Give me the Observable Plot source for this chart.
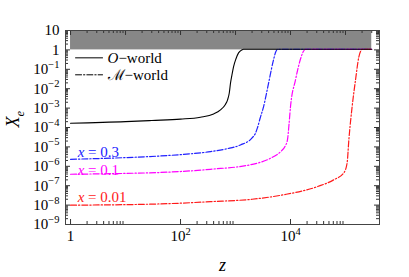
<!DOCTYPE html>
<html><head><meta charset="utf-8">
<script src="https://cdn.jsdelivr.net/npm/d3@7"></script>
<script src="https://cdn.jsdelivr.net/npm/@observablehq/plot@0.6"></script>
<style>body{margin:0;background:#fff} svg text{font-family:'Liberation Serif','DejaVu Serif',serif !important}</style>
</head><body><div id="chart"></div>
<script>
// ---- data ----
const zO  = [1, 10, 30, 100, 230, 400, 533, 650, 715, 770, 812, 870, 920, 1020, 1135, 1300, 1400, 3000, 1e4, 1e5, 3e5];
const xeO = [1.66e-4, 2.0e-4, 2.3e-4, 2.7e-4, 3.4e-4, 5e-4, 8.1e-4, 1.5e-3, 2.6e-3, 6e-3, 0.02, 0.06, 0.133, 0.35, 0.7, 1.0, 1.08, 1.08, 1.08, 1.08, 1.08];

const zM3  = [1, 10, 43, 100, 351, 700, 1230, 2000, 2300, 2500, 2800, 3240, 4000, 4900, 5400, 5800, 1e4, 1e5, 3e5];
const xeM3 = [2.3e-6, 2.8e-6, 3.4e-6, 4e-6, 5.7e-6, 8e-6, 1.26e-5, 2.9e-5, 5e-5, 9.5e-5, 3e-4, 1.2e-3, 0.02, 0.3, 0.8, 1.08, 1.08, 1.08, 1.08];

const zM1  = [1, 10, 43, 351, 2130, 4330, 6600, 8000, 8800, 9400, 1e4, 12300, 15000, 17000, 18700, 1e5, 3e5];
const xeM1 = [3.9e-7, 4.3e-7, 4.8e-7, 7e-7, 1.3e-6, 2.6e-6, 5.7e-6, 1.1e-5, 2.3e-5, 1.5e-4, 1.2e-3, 0.028, 0.3, 0.8, 1.08, 1.08, 1.08];

const zM01  = [1, 43, 351, 2000, 7460, 31000, 60800, 93200, 107000, 115000, 132000, 152000, 175000, 190000, 201000, 3e5];
const xeM01 = [9.9e-9, 1.15e-8, 1.5e-8, 2e-8, 3.4e-8, 9e-8, 2e-7, 4.6e-7, 1.5e-6, 2.3e-5, 1.2e-3, 0.028, 0.44, 0.9, 1.08, 1.08];

const seriesNames  = ["O", "x=0.3", "x=0.1", "x=0.01"];
const seriesColors = ["#000000", "#2020ff", "#ff00ff", "#ff1a1a"];

const curveLabels = [
  {text: "*x* = 0.3",  z: 1.35, v: 3.2e-6,  color: "#2020ff"},
  {text: "*x* = 0.1",  z: 1.35, v: 3.6e-7,  color: "#ff00ff"},
  {text: "*x* = 0.01", z: 1.35, v: 1.38e-8, color: "#ff1a1a"}
];
const legendLabels = ["*O*\u2212world", "\u2133\u2212world"];

const yTickLabels = [10, 1, 1e-1, 1e-2, 1e-3, 1e-4, 1e-5, 1e-6, 1e-7, 1e-8, 1e-9];
const xTickLabels = [1, 1e2, 1e4];
const bandRange = {z1: 1, z2: 3e5, v1: 1, v2: 10};

// ---- build tables ----
const mk = (zs, vs, name) => zs.map((z, i) => ({z, v: vs[i], name}));
const solid = mk(zO, xeO, seriesNames[0]);
const dashed = [mk(zM3, xeM3, seriesNames[1]), mk(zM1, xeM1, seriesNames[2]), mk(zM01, xeM01, seriesNames[3])];

const fmtY = d => d === 10 ? "10" : d === 1 ? "1" : "10^{\u2212" + Math.round(-Math.log10(d)) + "}";
const fmtX = d => d === 1 ? "1" : "10^{" + Math.round(Math.log10(d)) + "}";

// tick positions
const yMinor = [], yMajor = [];
for (let n = -9; n <= 0; n++) for (let k = 1; k <= 9; k++) (k === 1 ? yMajor : yMinor).push(k * 10 ** n);
yMajor.push(10);
const topMajor = [], topMinor = [];
for (let n = 0; n <= 5; n++) for (let k = 1; k <= 9; k++) { const v = k * 10 ** n; if (v < 4.1e5) (k === 1 ? topMajor : topMinor).push(v); }
const botMajor = [], botMinor = [];
for (const n of [0, 2, 4]) for (let k = 1; k <= 9; k++) (k === 1 ? botMajor : botMinor).push(k * 10 ** n);

const W = 409, H = 277, mL = 65, mR = 30, mT = 30, mB = 53;
const iW = W - mL - mR, iH = H - mT - mB;
const dash = "6,2,1.3,2";
const tickStroke = "#333";
const FONT = "'Liberation Serif', 'DejaVu Serif', serif";
const legendRow = [0.39, 0.052];

const plot = Plot.plot({
  width: W, height: H, marginLeft: mL, marginRight: mR, marginTop: mT, marginBottom: mB,
  style: {fontFamily: FONT, background: "#fff", color: "#000", overflow: "visible"},
  x: {type: "log", domain: [0.81, 4.15e5], axis: null},
  y: {type: "log", domain: [1e-9, 10], axis: null},
  marks: [
    Plot.rect([bandRange], {x1: "z1", x2: "z2", y1: "v1", y2: "v2", fill: "#878787"}),
    ...dashed.map((d, i) => Plot.line(d, {x: "z", y: "v", stroke: seriesColors[i + 1], strokeWidth: 1.2, strokeDasharray: dash, curve: "monotone-x"})),
    Plot.line(solid, {x: "z", y: "v", stroke: seriesColors[0], strokeWidth: 1.1, curve: "monotone-x"}),
    // ticks (inward)
    Plot.tickY(yMajor, {y: d => d, insetRight: iW - 5, stroke: tickStroke}),
    Plot.tickY(yMinor, {y: d => d, insetRight: iW - 3, stroke: tickStroke}),
    Plot.tickY(yMajor, {y: d => d, insetLeft: iW - 5, stroke: tickStroke}),
    Plot.tickY(yMinor, {y: d => d, insetLeft: iW - 3, stroke: tickStroke}),
    Plot.tickX(topMajor, {x: d => d, insetBottom: iH - 5, stroke: tickStroke}),
    Plot.tickX(topMinor, {x: d => d, insetBottom: iH - 3, stroke: tickStroke}),
    Plot.tickX(botMajor, {x: d => d, insetTop: iH - 5, stroke: tickStroke}),
    Plot.tickX(botMinor, {x: d => d, insetTop: iH - 3, stroke: tickStroke}),
    Plot.frame({stroke: "#444", strokeWidth: 1}),
    // tick labels
    Plot.text(yTickLabels, {y: d => d, text: fmtY, frameAnchor: "left", textAnchor: "end", lineAnchor: "middle", dx: -6, fontSize: 15, fill: "#000"}),
    Plot.text(xTickLabels, {x: d => d, text: fmtX, frameAnchor: "bottom", textAnchor: "middle", lineAnchor: "top", dy: 6, fontSize: 15, fill: "#000"}),
    // axis titles
    Plot.text(["*X*_{*e*}"], {frameAnchor: "left", rotate: -90, dx: -52, lineAnchor: "middle", fontSize: 18, fill: "#000"}),
    Plot.text(["*z*"], {frameAnchor: "bottom", lineAnchor: "bottom", dy: 46, fontSize: 18, fill: "#000"}),
    // curve labels
    Plot.text(curveLabels, {x: "z", y: "v", text: "text", fill: "color", textAnchor: "start", lineAnchor: "bottom", fontSize: 15}),
    // legend
    Plot.line([{z: 1.233, v: legendRow[0]}, {z: 3.82, v: legendRow[0]}], {x: "z", y: "v", stroke: "#000", strokeWidth: 1}),
    Plot.line([{z: 1.233, v: legendRow[1]}, {z: 3.82, v: legendRow[1]}], {x: "z", y: "v", stroke: "#000", strokeWidth: 1, strokeDasharray: dash}),
    Plot.text([{t: legendLabels[0], z: 4.71, v: legendRow[0]}, {t: legendLabels[1], z: 4.71, v: legendRow[1]}], {x: "z", y: "v", text: "t", textAnchor: "start", lineAnchor: "middle", fontSize: 15, fill: "#000"})
  ]
});
document.getElementById("chart").append(plot);

// rich text: *italic*, ^{sup}, _{sub}
const NS = "http://www.w3.org/2000/svg";
plot.querySelectorAll("text").forEach(t => {
  t.setAttribute("font-family", FONT);
  const s = t.textContent;
  if (!/[\^_*]/.test(s)) return;
  const fs = parseFloat(getComputedStyle(t).fontSize) || 15;
  t.textContent = "";
  let shift = 0;
  const add = (txt, target, small, italic) => {
    const ts = document.createElementNS(NS, "tspan");
    const d = target * fs - shift;
    if (d !== 0) ts.setAttribute("dy", d.toFixed(2));
    shift = target * fs;
    if (small) ts.setAttribute("font-size", (fs * 0.7).toFixed(1));
    if (italic) ts.setAttribute("font-style", "italic");
    ts.textContent = txt;
    t.appendChild(ts);
  };
  const re = /(\^\{[^}]*\}|_\{[^}]*\}|\*[^*]*\*)/g;
  s.split(re).forEach(part => {
    if (!part) return;
    if (part.startsWith("^{") || part.startsWith("_{")) {
      const target = part[0] === "^" ? -0.42 : 0.25;
      const inner = part.slice(2, -1);
      inner.split(/(\*[^*]*\*)/).forEach(p => { if (p) add(p.replace(/\*/g, ""), target, true, p.startsWith("*")); });
    } else if (part.startsWith("*")) add(part.slice(1, -1), 0, false, true);
    else add(part, 0, false, false);
  });
});
</script>
</body></html>
